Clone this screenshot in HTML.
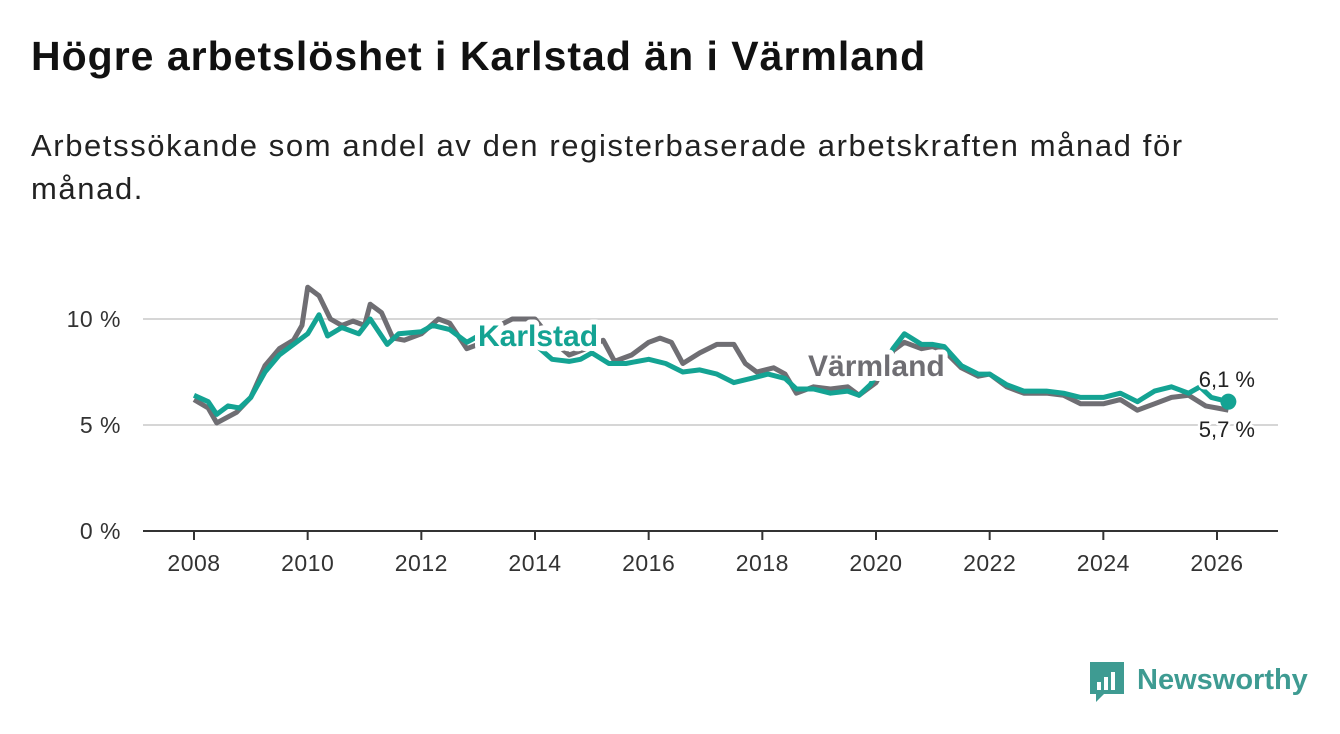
<!DOCTYPE html>
<html><head><meta charset="utf-8"><style>
body{margin:0;background:#fff;font-family:"Liberation Sans",sans-serif;}
#wrap{position:relative;width:1340px;height:734px;overflow:hidden;}
h1{position:absolute;left:31px;top:33px;margin:0;font-size:41px;letter-spacing:1px;font-weight:bold;color:#111;}
p{position:absolute;left:31px;top:124px;margin:0;font-size:31px;letter-spacing:1.6px;line-height:43px;color:#222;width:1280px;}
</style></head><body><div id="wrap">
<h1>Högre arbetslöshet i Karlstad än i Värmland</h1>
<p>Arbetssökande som andel av den registerbaserade arbetskraften månad för<br>månad.</p>
<svg id="chart" width="1340" height="734" style="position:absolute;left:0;top:0"></svg>
</div>
<script>
const yTicks=[0,5,10];
const yTickLabels=["0 %","5 %","10 %"];
const xTicks=[2008,2010,2012,2014,2016,2018,2020,2022,2024,2026];
const varmYears=[2008.0,2008.25,2008.4,2008.75,2009.0,2009.25,2009.5,2009.75,2009.9,2010.0,2010.2,2010.4,2010.6,2010.8,2011.0,2011.1,2011.3,2011.5,2011.7,2012.0,2012.3,2012.5,2012.8,2013.0,2013.3,2013.6,2014.0,2014.3,2014.6,2014.9,2015.2,2015.4,2015.7,2016.0,2016.2,2016.4,2016.6,2016.9,2017.2,2017.5,2017.7,2017.9,2018.2,2018.4,2018.6,2018.9,2019.2,2019.5,2019.7,2020.0,2020.3,2020.5,2020.8,2021.0,2021.2,2021.5,2021.8,2022.0,2022.3,2022.6,2023.0,2023.3,2023.6,2024.0,2024.3,2024.6,2024.9,2025.2,2025.5,2025.8,2026.0,2026.2];
const varmVals=[6.2,5.8,5.1,5.6,6.3,7.8,8.6,9.0,9.7,11.5,11.1,10.0,9.7,9.9,9.7,10.7,10.3,9.1,9.0,9.3,10.0,9.8,8.6,8.8,9.6,10.0,10.0,9.0,8.3,8.6,9.0,8.0,8.3,8.9,9.1,8.9,7.9,8.4,8.8,8.8,7.9,7.5,7.7,7.4,6.5,6.8,6.7,6.8,6.4,7.0,8.5,8.9,8.6,8.7,8.5,7.7,7.3,7.4,6.8,6.5,6.5,6.4,6.0,6.0,6.2,5.7,6.0,6.3,6.4,5.9,5.8,5.7];
const karlYears=[2008.0,2008.25,2008.4,2008.6,2008.8,2009.0,2009.25,2009.5,2009.75,2010.0,2010.2,2010.35,2010.6,2010.9,2011.1,2011.4,2011.6,2012.0,2012.2,2012.5,2012.8,2013.0,2013.3,2013.7,2014.0,2014.3,2014.6,2014.8,2015.0,2015.3,2015.6,2016.0,2016.3,2016.6,2016.9,2017.2,2017.5,2017.8,2018.1,2018.4,2018.6,2018.9,2019.2,2019.5,2019.7,2019.9,2020.3,2020.5,2020.8,2021.0,2021.2,2021.5,2021.8,2022.0,2022.3,2022.6,2023.0,2023.3,2023.6,2024.0,2024.3,2024.6,2024.9,2025.2,2025.5,2025.7,2025.9,2026.2];
const karlVals=[6.4,6.1,5.5,5.9,5.8,6.3,7.5,8.3,8.8,9.3,10.2,9.2,9.6,9.3,10.0,8.8,9.3,9.4,9.7,9.5,8.9,9.2,9.3,9.4,8.8,8.1,8.0,8.1,8.4,7.9,7.9,8.1,7.9,7.5,7.6,7.4,7.0,7.2,7.4,7.2,6.7,6.7,6.5,6.6,6.4,6.9,8.6,9.3,8.8,8.8,8.7,7.8,7.4,7.4,6.9,6.6,6.6,6.5,6.3,6.3,6.5,6.1,6.6,6.8,6.5,6.8,6.3,6.1];
const NS='http://www.w3.org/2000/svg';
const svg=document.getElementById('chart');
const xS=y=>194+(y-2008)*(1217-194)/18;
const yS=v=>531-v*21.2;
function mk(t,a,p){const e=document.createElementNS(NS,t);for(const k in a)e.setAttribute(k,a[k]);(p||svg).appendChild(e);return e;}
yTicks.forEach((t,i)=>{
  if(t>0){const g=mk('line',{x1:143,x2:1278,y1:yS(t),y2:yS(t),stroke:'#d6d6d6','stroke-width':2});
  
  }
  const l=mk('text',{x:121,y:yS(t)+8,'text-anchor':'end','font-size':23,'letter-spacing':0.5,fill:'#333'});l.textContent=yTickLabels[i];
  
  
});
const ax=mk('line',{x1:143,x2:1278,y1:531,y2:531,stroke:'#333','stroke-width':2});


xTicks.forEach(t=>{
  const k=mk('line',{x1:xS(t),x2:xS(t),y1:531,y2:540,stroke:'#333','stroke-width':2});
  
  
  const l=mk('text',{x:xS(t),y:571,'text-anchor':'middle','font-size':23,'letter-spacing':0.5,fill:'#333'});l.textContent=t;
  
  
});
function line(xs,vs,c,n){const d=xs.map((x,i)=>(i?'L':'M')+xS(x).toFixed(1)+' '+yS(vs[i]).toFixed(1)).join(' ');
  const p=mk('path',{d:d,fill:'none',stroke:c,'stroke-width':5,'stroke-linejoin':'round'});
  
  }
line(varmYears,varmVals,'#6f6e73','varmland-line');
line(karlYears,karlVals,'#14a393','karlstad-line');
const dot=mk('circle',{cx:xS(karlYears[karlYears.length-1]),cy:yS(karlVals[karlVals.length-1]),r:8,fill:'#14a393'});


function lab(x,y,t,c,sz,w,n,anchor){const e=mk('text',{x:x,y:y,'font-size':sz,'font-weight':w,fill:c,stroke:'#fff','stroke-width':w=='bold'?10:5,'paint-order':'stroke','stroke-linejoin':'round','text-anchor':anchor||'start'});e.textContent=t;
  
  }
lab(478,346,'Karlstad','#14a393',30,'bold','karlstad-label');
lab(808,376,'Värmland','#6f6e73',30,'bold','varmland-label');
lab(1255,387,'6,1 %','#222',22,'normal','karlstad-end-value','end');
lab(1255,437,'5,7 %','#222',22,'normal','varmland-end-value','end');
const lg=mk('g',{});


mk('path',{d:'M1090 662 h34 v32 h-20 l-8 8 v-8 h-6 z',fill:'#3e9b92'},lg);
mk('rect',{x:1097,y:682,width:4,height:8,fill:'#fff'},lg);
mk('rect',{x:1104,y:677,width:4,height:13,fill:'#fff'},lg);
mk('rect',{x:1111,y:672,width:4,height:18,fill:'#fff'},lg);
const lt=mk('text',{x:1137,y:689,'font-size':29,'font-weight':'bold',fill:'#3e9b92'},lg);lt.textContent='Newsworthy';
</script></body></html>
